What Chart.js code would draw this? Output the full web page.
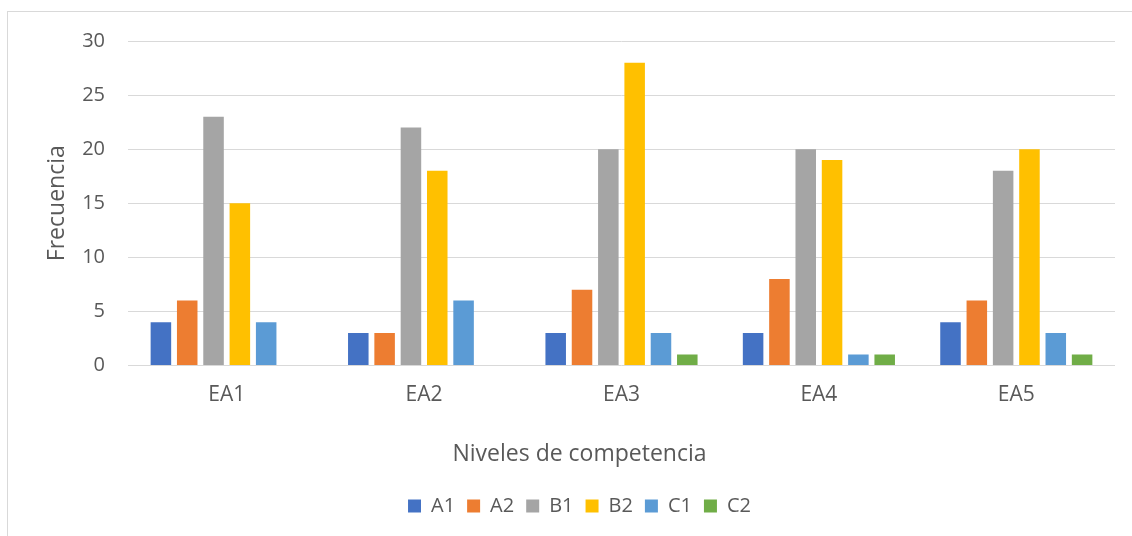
<!DOCTYPE html>
<html>
<head>
<meta charset="utf-8">
<script src="https://cdn.jsdelivr.net/npm/chart.js@4"></script>
<style>
  html, body { margin: 0; padding: 0; background: #fff; overflow: hidden; }
  #frame { position: absolute; left: 7px; top: 11px; width: 1140px; height: 540px; border: 1px solid #d9d9d9; }
  #wrap { position: absolute; left: 0; top: 0; width: 1132px; height: 536px; }
</style>
</head>
<body>
<div id="frame"></div>
<div id="wrap"><canvas id="chart" width="1132" height="536"></canvas></div>
<script>
// categories and series
const categories = ['EA1', 'EA2', 'EA3', 'EA4', 'EA5'];
const seriesNames = ['A1', 'A2', 'B1', 'B2', 'C1', 'C2'];
const seriesColors = ['#4472C4', '#ED7D31', '#A5A5A5', '#FFC000', '#5B9BD5', '#70AD47'];
const a1 = [4, 3, 3, 3, 4];
const a2 = [6, 3, 7, 8, 6];
const b1 = [23, 22, 20, 20, 18];
const b2 = [15, 18, 28, 19, 20];
const c1 = [4, 6, 3, 1, 3];
const c2 = [0, 0, 1, 1, 1];
const seriesValues = [a1, a2, b1, b2, c1, c2];

const textColor = '#595959';
const gridColor = '#d9d9d9';
const family = '"Open Sans", sans-serif';

const ctx = document.getElementById('chart');
new Chart(ctx, {
    type: 'bar',
    data: {
        labels: categories,
        datasets: seriesNames.map((name, i) => ({
            label: name,
            data: seriesValues[i],
            backgroundColor: seriesColors[i],
            categoryPercentage: 0.8,
            barPercentage: 0.78
        }))
    },
    options: {
        responsive: false,
        animation: false,
        layout: { padding: { left: 44, right: 17, top: 41, bottom: 10 } },
        plugins: {
            tooltip: { enabled: false },
            // x axis title, centred on the whole chart like the original
            title: {
                display: true,
                position: 'bottom',
                text: 'Niveles de competencia',
                color: textColor,
                font: { family: family, size: 23, weight: 'normal' },
                padding: { top: 25, bottom: 16 },
                weight: 500
            },
            legend: {
                position: 'bottom',
                labels: {
                    color: textColor,
                    font: { family: family, size: 20 },
                    boxWidth: 13,
                    boxHeight: 13,
                    padding: 12
                }
            }
        },
        scales: {
            x: {
                grid: { display: false, drawTicks: false },
                border: { display: false },
                ticks: { color: textColor, font: { family: family, size: 21 }, padding: 17 },
                afterFit(scale) { scale.height = 50; }
            },
            y: {
                min: 0,
                max: 30,
                ticks: { stepSize: 5, color: textColor, font: { family: family, size: 20 }, padding: 23 },
                grid: { color: gridColor, lineWidth: 1, drawTicks: false },
                border: { display: false },
                title: {
                    display: true,
                    text: 'Frecuencia',
                    color: textColor,
                    font: { family: family, size: 23 },
                    padding: { top: 0, bottom: 0 }
                },
                afterFit(scale) { scale.width = 84; }
            }
        }
    }
});
</script>
</body>
</html>
